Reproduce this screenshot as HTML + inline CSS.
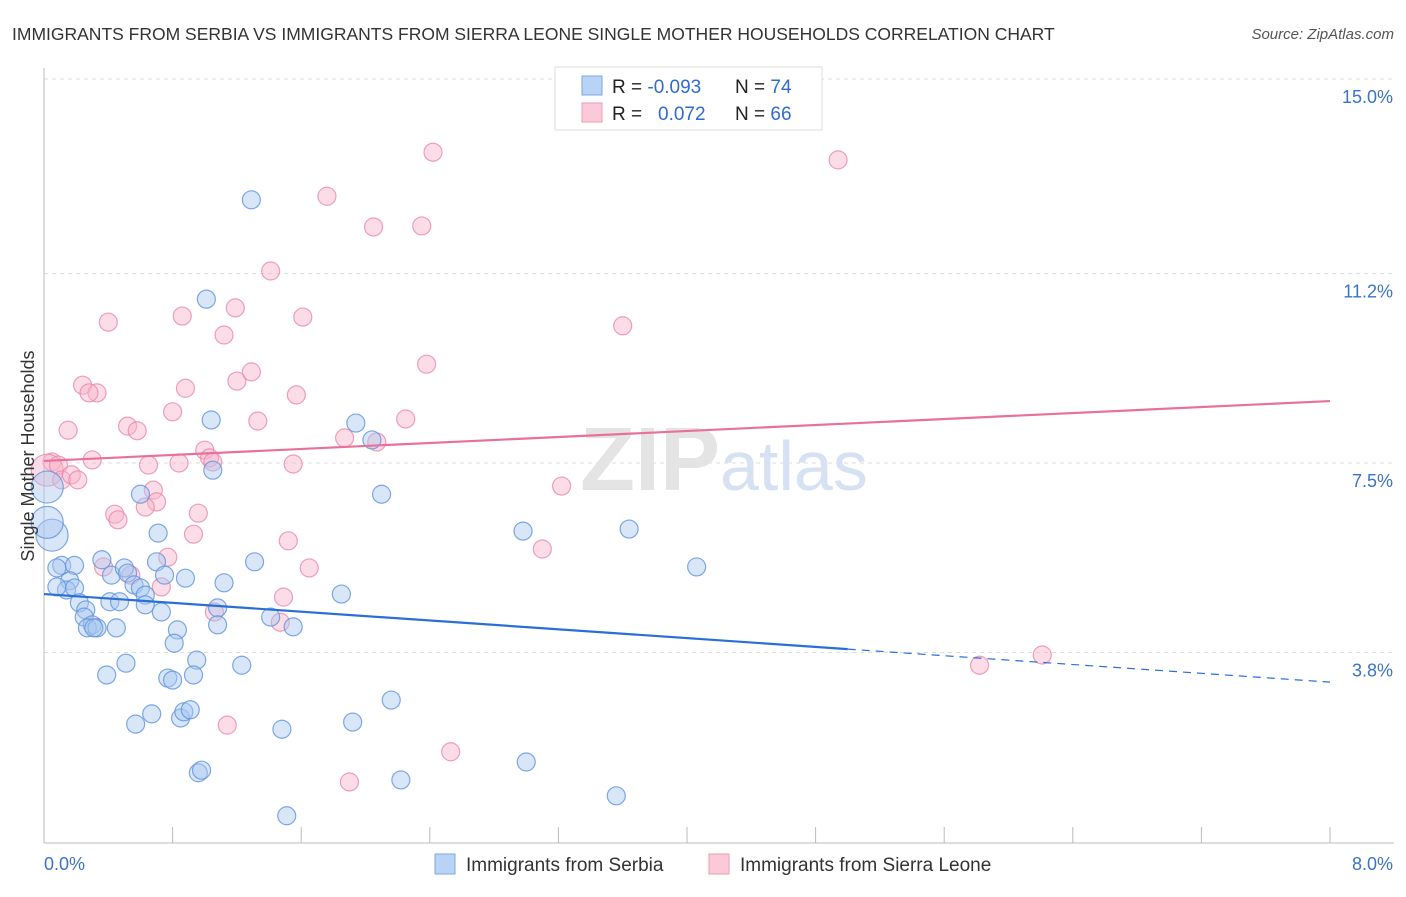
<!DOCTYPE html>
<html><head><meta charset="utf-8"><style>
body{margin:0;background:#fff;font-family:"Liberation Sans",sans-serif}
svg text{font-family:"Liberation Sans",sans-serif}
</style></head><body>
<svg id="chart" width="1406" height="892" xmlns="http://www.w3.org/2000/svg">
<text x="12" y="40" font-size="17.5" fill="#333">IMMIGRANTS FROM SERBIA VS IMMIGRANTS FROM SIERRA LEONE SINGLE MOTHER HOUSEHOLDS CORRELATION CHART</text>
<text x="1394" y="39" font-size="15" fill="#555" font-style="italic" text-anchor="end">Source: ZipAtlas.com</text>
<g id="grid"></g>
<text x="720" y="490" font-size="90" fill="#e4e4e4" text-anchor="end" font-family="Liberation Serif" font-weight="bold">ZIP</text>
<text x="720" y="490" font-size="70" fill="#d6e2f3">atlas</text>
<g id="pts"></g>
<g id="lines"></g>
<text transform="translate(34,456) rotate(-90)" font-size="18" fill="#333" text-anchor="middle">Single Mother Households</text>
<text x="44" y="870" font-size="18" fill="#3b73c9">0.0%</text>
<text x="1393" y="870" font-size="18" fill="#3b73c9" text-anchor="end">8.0%</text>
<g>
<rect x="555" y="67" width="267" height="63" fill="#fff" stroke="#ddd"/>
<rect x="582" y="76" width="20" height="19" fill="#b9d3f4" stroke="#7aa7e6"/>
<rect x="582" y="103" width="20" height="19" fill="#fbc9d8" stroke="#ee9ab5"/>
<text x="612" y="93" font-size="19" fill="#222">R = <tspan fill="#2f6bd0">-0.093</tspan><tspan x="735">N = </tspan><tspan fill="#2f6bd0">74</tspan></text>
<text x="612" y="120" font-size="19" fill="#222">R = <tspan x="658" fill="#2f6bd0">0.072</tspan><tspan x="735">N = </tspan><tspan fill="#2f6bd0">66</tspan></text>
</g>
<g>
<rect x="435" y="854" width="20" height="20" fill="#b9d3f4" stroke="#7aa7e6"/>
<text x="466" y="871" font-size="19" fill="#333">Immigrants from Serbia</text>
<rect x="709" y="854" width="20" height="20" fill="#fbc9d8" stroke="#ee9ab5"/>
<text x="740" y="871" font-size="19" fill="#333">Immigrants from Sierra Leone</text>
</g>
</svg>
<script>
const yTicks=[3.8,7.5,11.2,15.0];
const yTickLabels=["3.8%","7.5%","11.2%","15.0%"];
const xTicks=[0,0.8,1.6,2.4,3.2,4.0,4.8,5.6,6.4,7.2,8.0];
const serbiaX=[0.05,0.02,0.02,0.11,0.08,0.19,0.16,0.14,0.19,0.22,0.26,0.25,0.30,0.27,0.33,0.36,0.45,0.42,0.41,0.47,0.50,0.52,0.56,0.60,0.63,0.63,0.60,0.71,0.70,0.75,0.73,0.83,0.81,0.88,0.77,0.80,0.95,0.93,0.39,0.51,0.67,0.57,0.85,0.87,0.91,1.08,1.08,1.12,1.05,1.04,1.01,1.29,1.31,1.23,1.41,1.48,1.55,1.51,0.96,0.98,1.85,1.92,1.94,2.04,2.10,2.16,2.22,2.98,3.00,3.56,3.64,4.06,0.08,0.31];
const serbiaY=[6.09,6.34,7.03,5.50,5.45,5.50,5.20,5.02,5.06,4.77,4.63,4.49,4.34,4.28,4.28,5.61,4.28,5.31,4.79,4.79,5.45,5.35,5.12,5.06,4.92,4.73,6.89,6.13,5.57,5.31,4.59,4.24,3.98,5.25,3.30,3.26,3.65,3.36,3.36,3.59,2.60,2.40,2.52,2.64,2.68,4.67,4.34,5.16,7.36,8.34,10.70,12.64,5.57,3.55,4.49,2.30,4.30,0.61,1.45,1.50,4.94,2.44,8.28,7.95,6.89,2.87,1.31,6.17,1.66,1.00,6.21,5.47,5.08,4.28];
const serbiaBig=[1,1,1];
const sierraX=[0.05,0.02,0.09,0.11,0.17,0.21,0.15,0.30,0.24,0.33,0.28,0.40,0.52,0.58,0.44,0.46,0.37,0.54,0.65,0.68,0.70,0.63,0.77,0.73,0.80,0.86,0.88,0.84,0.93,0.96,1.00,1.03,1.05,1.12,1.19,1.20,1.29,1.33,1.06,1.41,1.61,1.57,1.55,1.52,1.49,1.65,1.47,1.14,1.76,1.87,2.05,2.07,2.35,2.38,2.25,2.42,2.53,1.90,3.10,3.22,3.60,4.94,5.82,6.21,3.81];
const sierraY=[7.52,7.36,7.46,7.17,7.27,7.17,8.14,7.56,9.02,8.87,8.87,10.25,8.22,8.13,6.50,6.39,5.47,5.31,7.46,6.97,6.74,6.64,5.66,5.08,8.50,10.37,8.96,7.50,6.11,6.52,7.75,7.60,7.52,10.00,10.53,9.10,9.28,8.32,4.59,11.25,10.35,8.83,7.48,5.98,4.88,5.45,4.39,2.38,12.71,7.99,12.11,7.91,12.13,9.43,8.36,13.57,1.86,1.27,5.82,7.05,10.18,13.42,3.55,3.75,14.30];
const sierraBig=[0,1];
const serbiaTrend=[4.94,3.22];
const sierraTrend=[7.54,8.71];
const serbiaSolidEnd=5.0;

const NS="http://www.w3.org/2000/svg";
const X0=44,X1=1330,Y0=843;
function sx(v){return X0+(v-0)/8*(X1-X0);}
function sy(v){return 79+(15-v)*51.2;}
function mk(tag,attrs,parent){const e=document.createElementNS(NS,tag);for(const k in attrs)e.setAttribute(k,attrs[k]);parent.appendChild(e);return e;}
const grid=document.getElementById('grid');
yTicks.forEach((t,i)=>{
  const l=mk('line',{x1:X0,x2:1394,y1:sy(t),y2:sy(t),stroke:'#ddd','stroke-dasharray':'4,4'},grid);
  
  
  const tx=mk('text',{x:1393,y:sy(t)+24,'font-size':18,fill:'#3b73c9','text-anchor':'end'},grid);
  tx.textContent=yTickLabels[i];
  
  
});
const ax=mk('line',{x1:X0,x2:X0,y1:68,y2:Y0,stroke:'#bbb'},grid);


const bx=mk('line',{x1:X0,x2:1394,y1:Y0,y2:Y0,stroke:'#bbb'},grid);


xTicks.forEach(t=>{
  const l=mk('line',{x1:sx(t),x2:sx(t),y1:Y0,y2:Y0-16,stroke:'#bbb'},grid);
  
  
});
const pts=document.getElementById('pts');
function drawSeries(xs,ys,big,fill,stroke,name){
  xs.forEach((x,i)=>{
    const c=mk('circle',{cx:sx(x),cy:sy(ys[i]),r:big[i]?16:9,fill:fill,'fill-opacity':0.45,stroke:stroke,'stroke-opacity':0.8,'stroke-width':1.2},pts);
    
    
  });
}
drawSeries(sierraX,sierraY,sierraBig,'#f8b4c9','#e98aa8','point-sierra-leone');
drawSeries(serbiaX,serbiaY,serbiaBig,'#a9c8f0','#5f94df','point-serbia');
const lines=document.getElementById('lines');
const slope=(serbiaTrend[1]-serbiaTrend[0])/8;
const midY=serbiaTrend[0]+slope*serbiaSolidEnd;
const b1=mk('line',{x1:sx(0),y1:sy(serbiaTrend[0]),x2:sx(serbiaSolidEnd),y2:sy(midY),stroke:'#2a6fd6','stroke-width':2.2},lines);


const b2=mk('line',{x1:sx(serbiaSolidEnd),y1:sy(midY),x2:sx(8),y2:sy(serbiaTrend[1]),stroke:'#2a6fd6','stroke-width':1.2,'stroke-dasharray':'8,6'},lines);


const p1=mk('line',{x1:sx(0),y1:sy(sierraTrend[0]),x2:sx(8),y2:sy(sierraTrend[1]),stroke:'#e8709a','stroke-width':2.2},lines);


</script>
</body></html>
